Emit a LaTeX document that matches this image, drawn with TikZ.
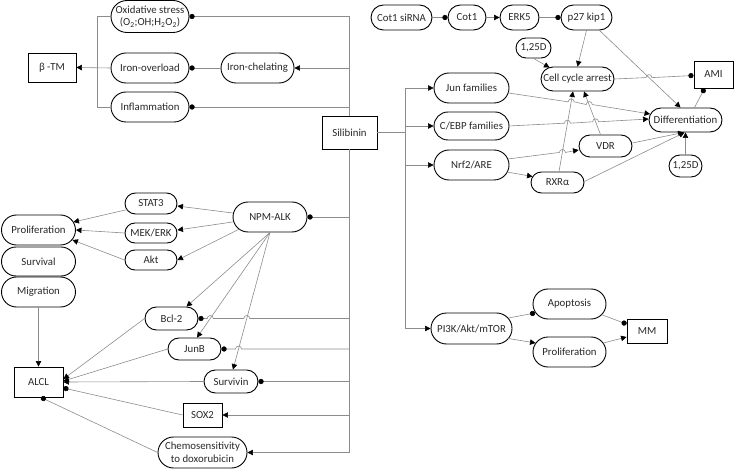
\documentclass[tikz,border=0pt]{standalone}
\usepackage{fontspec}
\setmainfont{Carlito}
\usetikzlibrary{arrows.meta,shapes.misc,calc}
\definecolor{linegray}{RGB}{140,140,140}
\definecolor{txt}{RGB}{40,40,40}
\tikzset{
  wh/.style 2 args={minimum width=#1pt, minimum height=#2pt},
  rr/.style={rounded rectangle, draw=black, line width=0.9pt, inner sep=1pt, align=center, text=txt, font=\fontsize{10.8}{12.5}\selectfont},
  bx/.style={rectangle, draw=black, line width=0.9pt, inner sep=1pt, align=center, text=txt, font=\fontsize{10.8}{12.5}\selectfont},
  con/.style={draw=linegray, line width=0.6pt},
  arr/.style={con, -{Triangle[length=5.5pt,width=5.5pt,color=black]}},
  dotp/.style={con, -{Circle[length=5.2pt,width=5.2pt,color=black]}},
  rdotp/.style={con, {Circle[length=5.2pt,width=5.2pt,color=black]}-},
}
\begin{document}
\begin{tikzpicture}[x=1pt,y=-1pt]
\useasboundingbox (0,0) rectangle (736,470);
% ---------- nodes ----------
\node[rr, wh={80}{32}] (ox) at (150,16.5) {Oxidative stress\\(O\textsubscript{2};OH;H\textsubscript{2}O\textsubscript{2})};
\node[bx, wh={48}{29}] (btm) at (52,67.5) {β -TM};
\node[rr, wh={80}{30}] (iov) at (150,68) {Iron-overload};
\node[rr, wh={75}{30}] (ich) at (257.5,68) {Iron-chelating};
\node[rr, wh={80}{30}] (infl) at (150,107) {Inflammation};
\node[bx, wh={55}{33}] (sil) at (349.5,132.5) {Silibinin};
\node[rr, wh={63}{25}] (cots) at (401.5,17.5) {Cot1 siRNA};
\node[rr, wh={40}{25}] (cot) at (467,17.5) {Cot1};
\node[rr, wh={41}{25}] (erk5) at (519.5,17.5) {ERK5};
\node[rr, wh={53}{25}] (p27) at (586.5,17.5) {p27 kip1};
\node[rr, wh={37}{20}] (d1) at (533.5,48) {1,25D};
\node[rr, wh={75}{24}] (cca) at (577.5,79) {Cell cycle arrest};
\node[bx, wh={39}{27}] (ami) at (713.5,74.5) {AMI};
\node[rr, wh={77}{30}] (jun) at (471.5,88) {Jun families};
\node[rr, wh={77}{28}] (cebp) at (471.5,126) {C/EBP families};
\node[rr, wh={75}{24}] (diff) at (685.5,120) {Differentiation};
\node[rr, wh={77}{30}] (nrf) at (471.5,165) {Nrf2/ARE};
\node[rr, wh={55}{22}] (vdr) at (605.5,146) {VDR};
\node[rr, wh={55}{21}] (rxr) at (557.5,182.5) {RXRα};
\node[rr, wh={35}{22}] (d2) at (685.5,166) {1,25D};
\node[rr, wh={83}{31}] (pi3k) at (471.5,328.5) {PI3K/Akt/mTOR};
\node[rr, wh={75}{30}] (apo) at (569.5,304) {Apoptosis};
\node[rr, wh={75}{30}] (prolR) at (569.5,352) {Proliferation};
\node[bx, wh={40}{24}] (mm) at (647,331) {MM};
\node[rr, wh={54}{21}] (stat3) at (151,203.5) {STAT3};
\node[rr, wh={54}{20}] (mek) at (151,233) {MEK/ERK};
\node[rr, wh={54}{20}] (akt) at (151,260) {Akt};
\node[rr, wh={76}{30}] (npm) at (270,217) {NPM-ALK};
\node[rr, wh={76}{30}] (prolL) at (38.5,230) {Proliferation};
\node[rr, wh={76}{29}] (surv) at (38.5,261.5) {Survival};
\node[rr, wh={76}{30}] (mig) at (38.5,292) {Migration};
\node[rr, wh={55}{23}] (bcl) at (171.5,318.5) {Bcl-2};
\node[rr, wh={55}{22}] (junb) at (194.5,349) {JunB};
\node[rr, wh={56}{23}] (survin) at (231,381.5) {Survivin};
\node[bx, wh={39}{24}] (sox2) at (202.5,415) {SOX2};
\node[rr, wh={91}{31}] (chemo) at (202.5,452.5) {Chemosensitivity\\to doxorubicin};
\node[bx, wh={49}{30}] (alcl) at (38.5,382) {ALCL};
% ---------- beta-TM cluster ----------
\coordinate (brk) at (97,68);
\draw[con] (ox.west) -| (brk);
\draw[con] (infl.west) -| (brk);
\draw[arr] (iov.west) -- (btm.east);
\draw[dotp] (ich.west) -- (iov.east);
\draw[dotp] (sil.north) |- (ox.east);
\draw[arr] (sil.north) |- (ich.east);
\draw[dotp] (sil.north) |- (infl.east);
% ---------- Silibinin right branch ----------
\coordinate (sr) at ($(sil.east)+(28,0)$);
\draw[con] (sil.east) -- (sr);
\draw[arr] (sr) |- (jun.west);
\draw[arr] (sr) |- (cebp.west);
\draw[arr] (sr) |- (nrf.west);
\draw[arr] (sr) |- (pi3k.west);
% ---------- top chain ----------
\draw[dotp] (cots.east) -- (cot.west);
\draw[arr] (cot.east) -- (erk5.west);
\draw[dotp] (erk5.east) -- (p27.west);
% ---------- right-side coordinates ----------
\coordinate (p27a) at ($(p27.south)+(13,0)$);
\coordinate (diffN) at ($(diff.north)+(-5,0)$);
\coordinate (ccaD) at ($(cca.north)+(-28,1)$);
\coordinate (ccaE) at (cca.east);
\coordinate (amiW) at ($(ami.west)+(0,1)$);
\coordinate (junE) at ($(jun.east)+(-1,5)$);
\coordinate (diffW1) at ($(diff.west)+(1.5,-6)$);
\coordinate (cebpE) at ($(cebp.east)+(-1,0)$);
\coordinate (diffW2) at ($(diff.west)+(0,-1)$);
\coordinate (nrfE1) at ($(nrf.east)+(-1.5,-6)$);
\coordinate (vdrW) at ($(vdr.west)+(0,4)$);
\coordinate (rxrN) at ($(rxr.north)+(1.5,0)$);
\coordinate (ccaS1) at ($(cca.south)+(-4.5,0)$);
\coordinate (vdrN) at ($(vdr.north)+(-5,0)$);
\coordinate (ccaS2) at ($(cca.south)+(6.5,0)$);
% ---------- right-side connectors ----------
\draw[arr] (p27.south) -- (cca.north);
\draw[arr] (p27a) -- (diffN);
\draw[arr] (d1.south) -- (ccaD);
\coordinate (hA) at (intersection of ccaE--amiW and p27a--diffN);
\draw[dotp] (ccaE) -- ($(hA)!3pt!(ccaE)$) arc[start angle=180,end angle=0,radius=3pt] -- (amiW);
\draw[dotp] ($(diff.north)+(9,0)$) -- ($(ami.south)+(-9,0)$);
\draw[arr] (rxrN) -- (ccaS1);
\draw[arr] (vdrN) -- (ccaS2);
\coordinate (hB1) at (intersection of junE--diffW1 and rxrN--ccaS1);
\coordinate (hB2) at (intersection of junE--diffW1 and vdrN--ccaS2);
\draw[arr] (junE) -- ($(hB1)!3pt!(junE)$) arc[start angle=180,end angle=0,radius=3pt]
  -- ($(hB2)!3pt!(junE)$) arc[start angle=180,end angle=0,radius=3pt] -- (diffW1);
\coordinate (hC1) at (intersection of cebpE--diffW2 and rxrN--ccaS1);
\coordinate (hC2) at (intersection of cebpE--diffW2 and vdrN--ccaS2);
\draw[arr] (cebpE) -- ($(hC1)!3pt!(cebpE)$) arc[start angle=180,end angle=0,radius=3pt]
  -- ($(hC2)!3pt!(cebpE)$) arc[start angle=180,end angle=0,radius=3pt] -- (diffW2);
\coordinate (hD) at (intersection of nrfE1--vdrW and rxrN--ccaS1);
\draw[arr] (nrfE1) -- ($(hD)!3pt!(nrfE1)$) arc[start angle=180,end angle=0,radius=3pt] -- (vdrW);
\draw[arr] ($(nrf.east)+(-2.5,7)$) -- ($(rxr.west)+(2,-6)$);
\draw[arr] ($(vdr.east)+(0,-3)$) -- ($(diff.south)+(-2,0)$);
\draw[arr] ($(rxr.east)+(0,-1)$) -- ($(diff.south)+(-1,0)$);
\draw[arr] (d2.north) -- (diff.south);
% ---------- MM ----------
\draw[dotp] ($(pi3k.east)+(-4,-10.5)$) -- ($(apo.west)+(2.5,9)$);
\draw[arr] ($(pi3k.east)+(-4,10)$) -- ($(prolR.west)+(3,-9)$);
\draw[dotp] ($(apo.east)+(-4,11)$) -- ($(mm.west)+(0,-7)$);
\draw[arr] ($(prolR.east)+(-3,-9)$) -- ($(mm.west)+(0,6)$);
% ---------- NPM-ALK ----------
\draw[arr] ($(npm.west)+(0,-4)$) -- ($(stat3.east)+(0,2.5)$);
\draw[arr] ($(npm.west)+(0,5)$) -- ($(mek.east)+(0,-3)$);
\draw[arr] ($(npm.west)+(7,12)$) -- (akt.east);
\draw[arr] ($(stat3.west)+(3,6)$) -- ($(prolL.east)+(-2.5,-8)$);
\draw[arr] (mek.west) -- (prolL.east);
\draw[arr] (akt.west) -- ($(prolL.east)+(-3.5,10)$);
\coordinate (npmS) at (npm.south);
\coordinate (bclT) at ($(bcl.north)+(15,0)$);
\coordinate (junbT) at ($(junb.north)+(2.5,0)$);
\coordinate (survT) at ($(survin.north)+(2,0)$);
\draw[arr] (npmS) -- (bclT);
\draw[arr] (npmS) -- (junbT);
\draw[arr] (npmS) -- (survT);
% ---------- Silibinin lower branch ----------
\draw[dotp] (sil.south) |- (npm.east);
\draw[dotp] (sil.south) |- (survin.east);
\draw[arr] (sil.south) |- (sox2.east);
\draw[arr] (sil.south) |- (chemo.east);
\coordinate (bclE) at (bcl.east);
\coordinate (bR) at (sil.south |- bcl.east);
\coordinate (hE1) at (intersection of bclE--bR and npmS--junbT);
\coordinate (hE2) at (intersection of bclE--bR and npmS--survT);
\draw[rdotp] (bclE) -- ($(hE1)!3pt!(bclE)$) arc[start angle=180,end angle=0,radius=3pt]
  -- ($(hE2)!3pt!(bclE)$) arc[start angle=180,end angle=0,radius=3pt] -- (bR);
\coordinate (junbE) at (junb.east);
\coordinate (jR) at (sil.south |- junb.east);
\coordinate (hF) at (intersection of junbE--jR and npmS--survT);
\draw[rdotp] (junbE) -- ($(hF)!3pt!(junbE)$) arc[start angle=180,end angle=0,radius=3pt] -- (jR);
% ---------- ALCL ----------
\draw[arr] (mig.south) -- (alcl.north);
\draw[arr] (bcl.west) -- ($(alcl.east)+(0,-3)$);
\draw[arr] (junb.west) -- ($(alcl.east)+(0,-1)$);
\draw[arr] (survin.west) -- (alcl.east);
\draw[dotp] (sox2.west) -- ($(alcl.east)+(0,6)$);
\draw[dotp] (chemo.west) -- ($(alcl.south)+(2.5,0)$);
\end{tikzpicture}
\end{document}
